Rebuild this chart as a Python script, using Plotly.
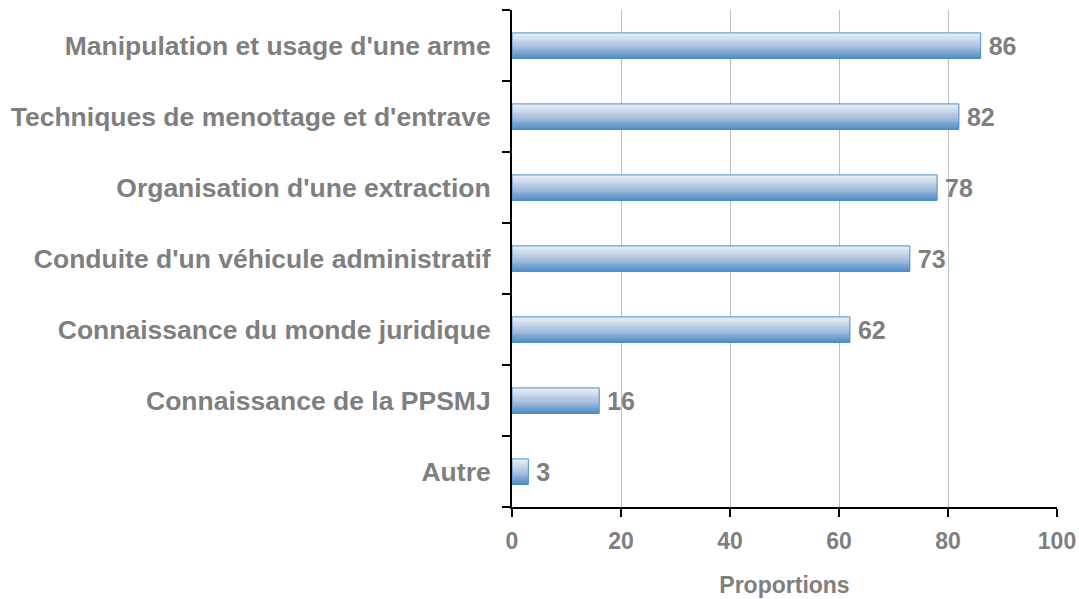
import plotly.graph_objects as go

categories = [
    "Manipulation et usage d'une arme",
    "Techniques de menottage et d'entrave",
    "Organisation d'une extraction",
    "Conduite d'un véhicule administratif",
    "Connaissance du monde juridique",
    "Connaissance de la PPSMJ",
    "Autre",
]
values = [86, 82, 78, 73, 62, 16, 3]
x_ticks = [0, 20, 40, 60, 80, 100]
axis_title = "Proportions"

GRAY = "#7f7f7f"
FONT = "Liberation Sans, Arial, sans-serif"
BAR_W = 0.355
N = 14

top_rgb = (235, 239, 246)
mid_rgb = (172, 195, 223)
bot_rgb = (76, 139, 197)


def lerp(a, b, t):
    return tuple(round(a[k] + (b[k] - a[k]) * t) for k in range(3))


fig = go.Figure()
# gradient strips (bottom strip first)
for i in range(N):
    t = (i + 0.5) / N  # 0 bottom -> 1 top
    if t < 0.5:
        c = lerp(bot_rgb, mid_rgb, t / 0.5)
    else:
        c = lerp(mid_rgb, top_rgb, (t - 0.5) / 0.5)
    fig.add_trace(go.Bar(
        x=values, y=categories, orientation="h",
        width=BAR_W / N, offset=-BAR_W / 2 + i * BAR_W / N,
        marker=dict(color="rgb(%d,%d,%d)" % c, line=dict(width=0)),
        hoverinfo="skip", showlegend=False,
    ))

# outline + value labels
fig.add_trace(go.Bar(
    x=values, y=categories, orientation="h",
    width=BAR_W, offset=-BAR_W / 2,
    marker=dict(color="rgba(0,0,0,0)", line=dict(color="#4a8fc8", width=1)),
    text=values, texttemplate="\u2009%{x}", textposition="outside",
    constraintext="none",
    textfont=dict(family=FONT, size=25, color=GRAY, weight="bold"),
    cliponaxis=False, showlegend=False,
))

fig.update_layout(
    width=1079, height=599,
    margin=dict(l=512, r=22, t=10, b=92),
    barmode="overlay",
    plot_bgcolor="white", paper_bgcolor="white",
    font=dict(family=FONT, color=GRAY),
    xaxis=dict(
        range=[0, 100], tickvals=x_ticks, automargin=False,
        showline=True, linecolor="black", linewidth=2,
        ticks="outside", ticklen=8, tickwidth=2, tickcolor="black",
        showgrid=True, gridcolor="#c0c0c0", gridwidth=1, zeroline=False,
        tickfont=dict(family=FONT, size=23, color=GRAY, weight="bold"),
        ticklabelstandoff=4,
        title=dict(text=axis_title, standoff=24,
                   font=dict(family=FONT, size=23, color=GRAY, weight="bold")),
    ),
    yaxis=dict(
        categoryorder="array", categoryarray=categories[::-1],
        range=[-0.5, len(categories) - 0.5], automargin=False,
        showline=True, linecolor="black", linewidth=2,
        ticks="outside", ticklen=8, tickwidth=2, tickcolor="black",
        tickson="boundaries", showgrid=False, zeroline=False,
        tickfont=dict(family=FONT, size=26.5, color=GRAY, weight="bold"),
        ticklabelstandoff=14,
    ),
)

fig.write_html(
    "out.html",
    config={"responsive": False, "displayModeBar": False},
    post_script="document.body.style.margin='0';",
)
